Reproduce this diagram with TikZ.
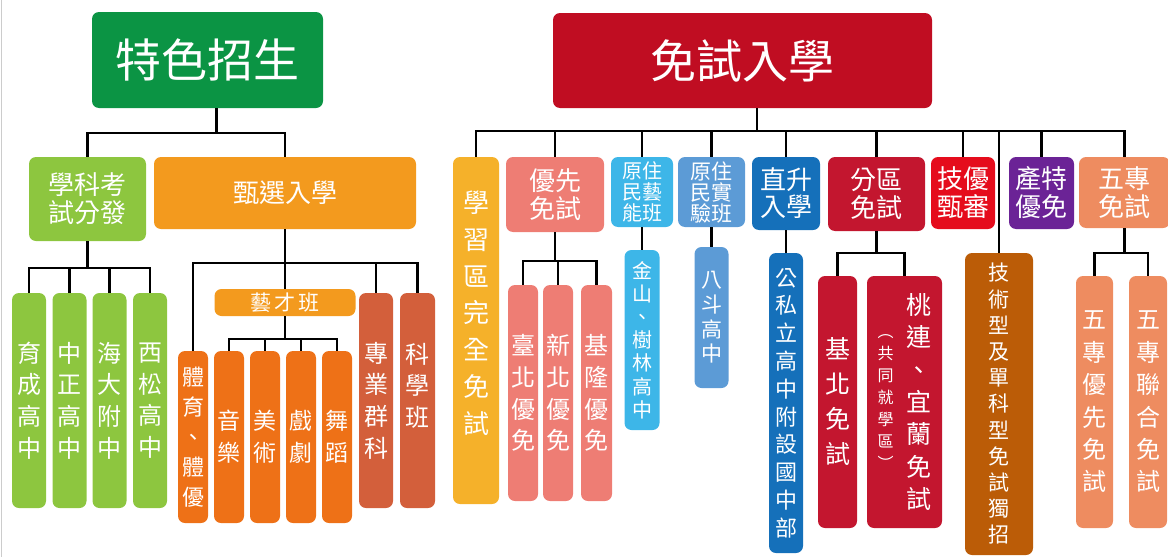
\documentclass[tikz,border=0pt]{standalone}
\usepackage{fontspec}
\usepackage{xcolor}
\usepackage{tikz}
\newfontfamily\cjk{Noto Sans CJK TC}
\newcommand{\cjksize}[2]{\fontsize{#1}{#2}\selectfont}

\definecolor{tesegreen}{HTML}{0B9444}
\definecolor{kefengreen}{HTML}{8DC63F}
\definecolor{zhenorange}{HTML}{F39A1E}
\definecolor{artorange}{HTML}{EE7117}
\definecolor{kebrown}{HTML}{D35F3B}
\definecolor{mianred}{HTML}{C00D22}
\definecolor{xueamber}{HTML}{F5B12A}
\definecolor{yousalmon}{HTML}{EE7D74}
\definecolor{yuanblue}{HTML}{3DB6E8}
\definecolor{shiblue}{HTML}{5C9BD6}
\definecolor{zhiblue}{HTML}{1570BA}
\definecolor{fenred}{HTML}{C3162F}
\definecolor{jiyoured}{HTML}{E50C1C}
\definecolor{jishubrown}{HTML}{BB5C07}
\definecolor{chantepurple}{HTML}{6B2396}
\definecolor{wuzhuanpeach}{HTML}{EE8C60}

\tikzset{
  box/.style={rounded corners=7pt, inner sep=0pt, text=white, align=center},
  wh/.style 2 args={minimum width=#1, minimum height=#2},
  link/.style={line width=2.2pt, black},
}

\begin{document}
\begin{tikzpicture}[x=1pt, y=-1pt]
    \useasboundingbox (0, 0) rectangle (1168, 557);
    \draw[black!20, line width=1pt] (1.5, 0) -- (1.5, 557);

    % left tree
    \node[box, fill=tesegreen, wh={231pt}{96pt}, font={\cjk\cjksize{46}{50}}]
      (tese) at (207.5, 60) {特色招生};
    \node[box, fill=kefengreen, wh={117pt}{84pt}, font={\cjk\cjksize{26}{28}}]
      (kefen) at (87.5, 199) {學科考\\試分發};
    \node[box, fill=zhenorange, wh={262pt}{72pt}, font={\cjk\cjksize{26}{28}}]
      (zhenxuan) at (285, 193) {甄選入學};

    % kefen kids
    \node[box, fill=kefengreen, wh={34pt}{215pt}, font={\cjk\cjksize{24}{31.7}}]
      (yucheng) at (29, 400.5) {育\\成\\高\\中};
    \node[box, fill=kefengreen, wh={34pt}{215pt}, font={\cjk\cjksize{24}{31.7}}]
      (zhongzheng) at (69.5, 400.5) {中\\正\\高\\中};
    \node[box, fill=kefengreen, wh={34pt}{215pt}, font={\cjk\cjksize{24}{31.7}}]
      (haida) at (109.5, 400.5) {海\\大\\附\\中};
    \node[box, fill=kefengreen, wh={34pt}{215pt}, font={\cjk\cjksize{24}{31.7}}]
      (xisong) at (150, 400.5) {西\\松\\高\\中};

    % zhenxuan kids
    \node[box, fill=zhenorange, wh={141pt}{27pt}, font={\cjk\cjksize{21}{24}}]
      (yicai) at (285, 302.5) {藝\,才\,班};
    \node[box, fill=artorange, wh={30pt}{172pt}, font={\cjk\cjksize{22}{30}}]
      (tiyu) at (193, 437) {體\\育\\、\\體\\優};
    \node[box, fill=artorange, wh={30pt}{172pt}, font={\cjk\cjksize{23}{32}}]
      (yinyue) at (229, 437) {音\\樂};
    \node[box, fill=artorange, wh={30pt}{172pt}, font={\cjk\cjksize{23}{32}}]
      (meishu) at (265, 437) {美\\術};
    \node[box, fill=artorange, wh={30pt}{172pt}, font={\cjk\cjksize{23}{32}}]
      (xiju) at (301, 437) {戲\\劇};
    \node[box, fill=artorange, wh={30pt}{172pt}, font={\cjk\cjksize{23}{32}}]
      (wudao) at (337, 437) {舞\\蹈};
    \node[box, fill=kebrown, wh={34pt}{215pt}, font={\cjk\cjksize{24}{31.7}}]
      (zhuanye) at (376, 400.5) {專\\業\\群\\科};
    \node[box, fill=kebrown, wh={35pt}{215pt}, font={\cjk\cjksize{24}{31.7}}]
      (kexue) at (417.5, 400.5) {科\\學\\班\\\mbox{}};

    % left connectors
    \draw[link] ([xshift=9pt]tese.south) -- ++(0, 25) coordinate (tbus);
    \foreach \k in {kefen, zhenxuan}
      \draw[link] (tbus) -| (\k.north);
    \draw[link] (kefen.south) -- ++(0, 27) coordinate (kbus);
    \foreach \k in {yucheng, zhongzheng, haida, xisong}
      \draw[link] (kbus) -| (\k.north);
    \draw[link] (zhenxuan.south) -- ++(0, 34) coordinate (zbus);
    \foreach \k in {tiyu, yicai, zhuanye, kexue}
      \draw[link] (zbus) -| (\k.north);
    \draw[link] (yicai.south) -- ++(0, 23) coordinate (ybus);
    \foreach \k in {yinyue, meishu, xiju, wudao}
      \draw[link] (ybus) -| (\k.north);

    % right tree
    \node[box, fill=mianred, wh={379pt}{95pt}, font={\cjk\cjksize{46}{50}}]
      (mianshi) at (742.5, 60.5) {免試入學};
    \node[box, fill=xueamber, wh={46pt}{347pt}, font={\cjk\cjksize{26}{36.7}}]
      (xuexi) at (476, 330.5) {學\\習\\區\\完\\全\\免\\試\\\mbox{}};
    \node[box, fill=yousalmon, wh={98pt}{75pt}, font={\cjk\cjksize{26}{28}}]
      (youxian) at (555, 194.5) {優先\\免試};
    \node[box, fill=yuanblue, wh={62pt}{70pt}, font={\cjk\cjksize{20}{21}}]
      (yuanyi) at (642, 192) {原住\\民藝\\能班};
    \node[box, fill=shiblue, wh={67pt}{70pt}, font={\cjk\cjksize{21}{21}}]
      (yuanshi) at (711.5, 192) {原住\\民實\\驗班};
    \node[box, fill=zhiblue, wh={68pt}{73pt}, font={\cjk\cjksize{26}{27}}]
      (zhisheng) at (786, 193.5) {直升\\入學};
    \node[box, fill=fenred, wh={97pt}{74pt}, font={\cjk\cjksize{26}{28}}]
      (fenqu) at (876.5, 194) {分區\\免試};
    \node[box, fill=jiyoured, wh={64pt}{72pt}, font={\cjk\cjksize{26}{28}}]
      (jiyou) at (963, 193) {技優\\甄審};
    \node[box, fill=jishubrown, wh={68pt}{302pt}, font={\cjk\cjksize{21}{26.2}}]
      (jishu) at (999, 404) {技\\術\\型\\及\\單\\科\\型\\免\\試\\獨\\招};
    \node[box, fill=chantepurple, wh={65pt}{72pt}, font={\cjk\cjksize{26}{28}}]
      (chante) at (1041.5, 193) {產特\\優免};
    \node[box, fill=wuzhuanpeach, wh={91pt}{71pt}, font={\cjk\cjksize{26}{28}}]
      (wuzhuan) at (1124.5, 192.5) {五專\\免試};

    % youxian kids
    \node[box, fill=yousalmon, wh={30pt}{216pt}, font={\cjk\cjksize{24}{31.7}}]
      (taibei) at (523, 393) {臺\\北\\優\\免};
    \node[box, fill=yousalmon, wh={30pt}{216pt}, font={\cjk\cjksize{24}{31.7}}]
      (xinbei) at (558, 393) {新\\北\\優\\免};
    \node[box, fill=yousalmon, wh={31pt}{216pt}, font={\cjk\cjksize{24}{31.7}}]
      (jilong) at (596.5, 393) {基\\隆\\優\\免};

    % single kids
    \node[box, fill=yuanblue, wh={35pt}{180pt}, font={\cjk\cjksize{20}{23.2}}]
      (jinshan) at (642, 340) {金\\山\\、\\樹\\林\\高\\中};
    \node[box, fill=shiblue, wh={34pt}{141pt}, font={\cjk\cjksize{21}{24.7}}]
      (badou) at (711.5, 317.5) {八\\斗\\高\\中};
    \node[box, fill=zhiblue, wh={34pt}{300pt}, font={\cjk\cjksize{22}{27.8}}]
      (gongsi) at (786, 403) {公\\私\\立\\高\\中\\附\\設\\國\\中\\部};

    % fenqu kids
    \node[box, fill=fenred, wh={39pt}{252pt}, font={\cjk\cjksize{25}{35}}]
      (jibei) at (837.5, 402) {基\\北\\免\\試};
    \node[box, fill=fenred, wh={75pt}{252pt}]
      (taolian) at (904.5, 402)
      {\parbox[c]{16pt}{\centering\cjk\cjksize{16}{22}︵\\共\\同\\就\\學\\區\\︶}%
       \hspace{12pt}%
       \parbox[c]{26pt}{\centering\cjk\cjksize{25}{32.3}桃\\連\\、\\宜\\蘭\\免\\試}};

    % wuzhuan kids
    \node[box, fill=wuzhuanpeach, wh={37pt}{252pt}, font={\cjk\cjksize{24}{32.4}}]
      (wzyouxian) at (1094.5, 402) {五\\專\\優\\先\\免\\試};
    \node[box, fill=wuzhuanpeach, wh={38pt}{252pt}, font={\cjk\cjksize{24}{32.4}}]
      (wzlianhe) at (1148, 402) {五\\專\\聯\\合\\免\\試};

    % right connectors
    \draw[link] ([xshift=14.5pt]mianshi.south) -- ++(0, 23) coordinate (mbus);
    \foreach \k in {xuexi, youxian, yuanyi, yuanshi, zhisheng, fenqu, jiyou,
      jishu, chante, wuzhuan}
      \draw[link] (mbus) -| (\k.north);
    \draw[link] (youxian.south) -- ++(0, 29) coordinate (pbus);
    \foreach \k in {taibei, xinbei, jilong}
      \draw[link] (pbus) -| (\k.north);
    \draw[link] (yuanyi.south) -- (jinshan.north);
    \draw[link] (yuanshi.south) -- (badou.north);
    \draw[link] (zhisheng.south) -- (gongsi.north);
    \draw[link] (fenqu.south) -- ++(0, 22) coordinate (fbus);
    \foreach \k in {jibei, taolian}
      \draw[link] (fbus) -| (\k.north);
    \draw[link] (wuzhuan.south) -- ++(0, 25) coordinate (wbus);
    \foreach \k in {wzyouxian, wzlianhe}
      \draw[link] (wbus) -| (\k.north);

\end{tikzpicture}
\end{document}
